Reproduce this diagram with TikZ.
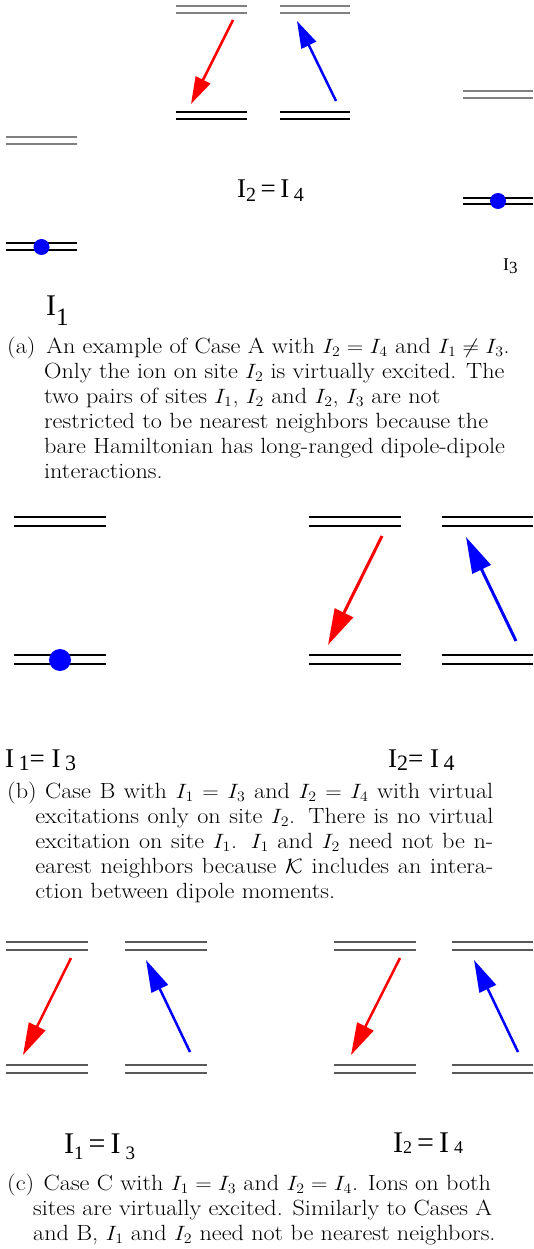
\documentclass[tikz,border=0pt]{standalone}
\usepackage{fontspec}
\newfontfamily\tms{Liberation Serif}
\usetikzlibrary{arrows.meta}
\newcommand\sbs[3]{\raisebox{-#2pt}{\fontsize{#1}{#1}\selectfont #3}}
\newcommand\capfont{\fontsize{22}{25}\selectfont}
\tikzset{
  upA/.style={draw=black!50, line width=1.1pt},
  loA/.style={draw=black, line width=1.1pt},
  lvB/.style={draw=black, line width=1.1pt},
  lvC/.style={draw=black!65, line width=1.1pt},
  redA/.style={draw=red, line width=2.5pt, -{Triangle[length=27pt,width=16pt,fill=red]}},
  bluA/.style={draw=blue, line width=2.5pt, -{Triangle[length=27pt,width=16pt,fill=blue]}},
  redB/.style={draw=red, line width=3pt, -{Triangle[length=36pt,width=20pt,fill=red]}},
  bluB/.style={draw=blue, line width=3pt, -{Triangle[length=36pt,width=20pt,fill=blue]}},
  redC/.style={draw=red, line width=2.5pt, -{Triangle[length=32pt,width=18pt,fill=red]}},
  bluC/.style={draw=blue, line width=2.5pt, -{Triangle[length=32pt,width=18pt,fill=blue]}},
  lab/.style={anchor=base west, inner sep=0pt, font=\tms},
  captxt/.style={anchor=base west, inner sep=0pt, align=left, font=\capfont, xscale=1.1, transform shape},
}
\newcommand\pairlines[5]{\draw[#5] (#1,#3) -- (#2,#3) (#1,#4) -- (#2,#4);}
\begin{document}
\begin{tikzpicture}[x=1pt,y=-1pt]
\useasboundingbox (0,0) rectangle (533,1249);
% ---------------- panel (a)
\pairlines{176}{247}{6}{13}{upA}
\pairlines{176}{247}{112}{119}{loA}
\pairlines{280}{350}{6}{13}{upA}
\pairlines{280}{350}{112}{119}{loA}
\pairlines{6}{77}{137}{144}{upA}
\pairlines{6}{77}{243}{250}{loA}
\pairlines{463}{533}{91}{98}{upA}
\pairlines{463}{533}{198}{204}{loA}
\fill[blue] (41.5,247) circle (8pt);
\fill[blue] (498,201) circle (8pt);
\coordinate (ar1) at (233,20); \coordinate (ar2) at (191,104);
\coordinate (ab1) at (336,101); \coordinate (ab2) at (297,21);
\draw[redA] (ar1) -- (ar2);
\draw[bluA] (ab1) -- (ab2);
\node[lab] (la24) at (237,198) {\fontsize{27}{27}\selectfont I\sbs{20}{4}{2}\,=\,I\,\sbs{20}{4}{4}};
\node[lab] (la1) at (46,315) {\fontsize{30}{30}\selectfont I\sbs{25}{10}{1}};
\node[lab] (la3) at (503,270) {\fontsize{18}{18}\selectfont I\sbs{17}{3}{3}};
\node[captxt] (capA) at (7,478) {\makebox[35.5pt][l]{(a)}An example of Case A with $I_2 = I_4$ and $I_1 \neq I_3$.\\
\hspace*{33.6pt}Only the ion on site $I_2$ is virtually excited. The\\
\hspace*{33.6pt}two pairs of sites $I_1$, $I_2$ and $I_2$, $I_3$ are not\\
\hspace*{33.6pt}restricted to be nearest neighbors because the\\
\hspace*{33.6pt}bare Hamiltonian has long-ranged dipole-dipole\\
\hspace*{33.6pt}interactions.};
% ---------------- panel (b)
\pairlines{14}{106}{517}{526}{lvB}
\pairlines{14}{106}{655}{664}{lvB}
\pairlines{309}{401}{517}{526}{lvB}
\pairlines{309}{401}{655}{664}{lvB}
\pairlines{442}{533}{517}{526}{lvB}
\pairlines{442}{533}{655}{664}{lvB}
\fill[blue] (60,660) circle (11pt);
\coordinate (br1) at (382,536); \coordinate (br2) at (328,645);
\coordinate (bb1) at (516,641); \coordinate (bb2) at (466,537);
\draw[redB] (br1) -- (br2);
\draw[bluB] (bb1) -- (bb2);
\node[lab] (lb13) at (5,767) {\fontsize{27}{27}\selectfont I\,\sbs{22}{3}{1}= I\,\sbs{22}{3}{3}};
\node[lab] (lb24) at (388,767) {\fontsize{27}{27}\selectfont I\sbs{22}{3}{2}= I\,\sbs{22}{3}{4}};
\node[captxt] (capB) at (7,898) {\makebox[441.8pt][s]{\makebox[34.5pt][l]{(b)}Case B with $I_1 = I_3$ and $I_2 = I_4$ with virtual}\\
\hspace*{25.5pt}\makebox[416.4pt][s]{excitations only on site $I_2$. There is no virtual}\\
\hspace*{25.5pt}\makebox[416.4pt][s]{excitation on site $I_1$. $I_1$ and $I_2$ need not be n-}\\
\hspace*{25.5pt}\makebox[416.4pt][s]{earest neighbors because $\mathcal{K}$ includes an intera-}\\
\hspace*{25.5pt}ction between dipole moments.};
% ---------------- panel (c)
\pairlines{6}{88}{942}{950}{lvC}
\pairlines{6}{88}{1065}{1073}{lvC}
\pairlines{125}{207}{942}{950}{lvC}
\pairlines{125}{207}{1065}{1073}{lvC}
\pairlines{334}{416}{942}{950}{lvC}
\pairlines{334}{416}{1065}{1073}{lvC}
\pairlines{452}{533}{942}{950}{lvC}
\pairlines{452}{533}{1065}{1073}{lvC}
\coordinate (cr1) at (71,958); \coordinate (cr2) at (23,1055);
\coordinate (cb1) at (190,1052); \coordinate (cb2) at (146,960);
\coordinate (cr3) at (400,958); \coordinate (cr4) at (351,1055);
\coordinate (cb3) at (518,1052); \coordinate (cb4) at (474,960);
\draw[redC] (cr1) -- (cr2);
\draw[bluC] (cb1) -- (cb2);
\draw[redC] (cr3) -- (cr4);
\draw[bluC] (cb3) -- (cb4);
\begin{scope}
\clip (0,1100) rectangle (533,1161);
\node[lab] (lc13) at (64,1153) {\fontsize{30}{30}\selectfont I\sbs{19}{6}{1}\,=\,I\,\sbs{19}{6}{3}};
\end{scope}
\node[lab] (lc24) at (393,1152) {\fontsize{30}{30}\selectfont I\sbs{18}{1}{2}\,=\,I\,\sbs{18}{1}{4}};
\node[captxt] (capC) at (7,1240) {\makebox[33.2pt][l]{(c)}Case C with $I_1 = I_3$ and $I_2 = I_4$. Ions on both\\
\hspace*{23.6pt}sites are virtually excited. Similarly to Cases A\\
\hspace*{23.6pt}and B, $I_1$ and $I_2$ need not be nearest neighbors.};
\end{tikzpicture}
\end{document}
